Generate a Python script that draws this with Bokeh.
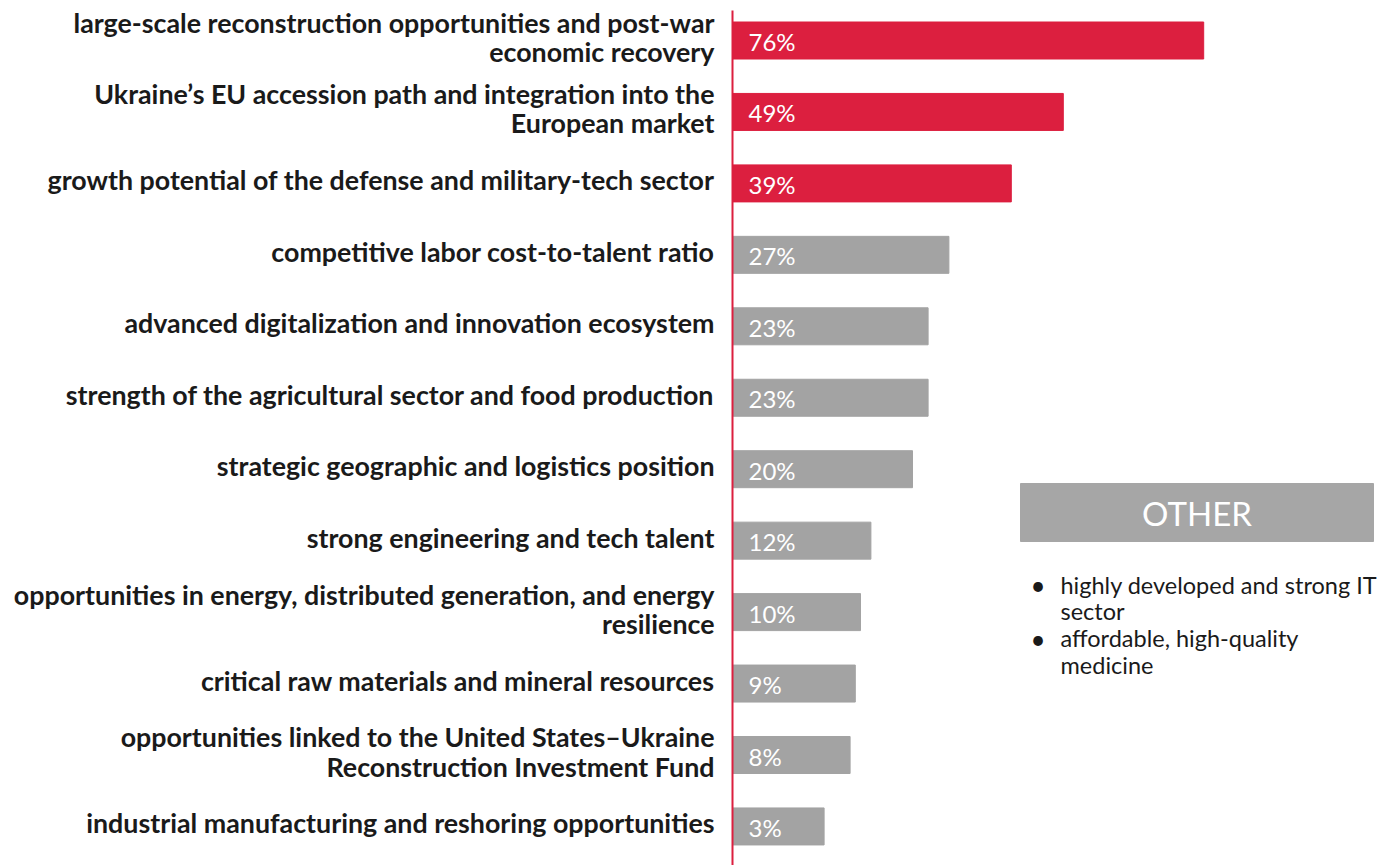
import numpy as np
from bokeh.plotting import figure
from bokeh.models import Range1d, ColumnDataSource
from bokeh.core.properties import value
from bokeh.embed import file_html
from bokeh.resources import INLINE

# ---------------- data ----------------
categories = [
    "large-scale reconstruction opportunities and post-war\neconomic recovery",
    "Ukraine\u2019s EU accession path and integration into the\nEuropean market",
    "growth potential of the defense and military-tech sector",
    "competitive labor cost-to-talent ratio",
    "advanced digitalization and innovation ecosystem",
    "strength of the agricultural sector and food production",
    "strategic geographic and logistics position",
    "strong engineering and tech talent",
    "opportunities in energy, distributed generation, and energy\nresilience",
    "critical raw materials and mineral resources",
    "opportunities linked to the United States\u2013Ukraine\nReconstruction Investment Fund",
    "industrial manufacturing and reshoring opportunities",
]
values = [76, 49, 39, 27, 23, 23, 20, 12, 10, 9, 8, 3]
highlight = [True, True, True, False, False, False, False, False, False, False, False, False]
other_title = "OTHER"
other_items = ["highly developed and strong IT\nsector", "affordable, high-quality\nmedicine"]

RED = "#DC1F3F"
GRAY = "#A3A3A3"

# ---------------- layout ----------------
W, H = 1386, 865
PX = 5.2            # pixels per percentage point
ZERO = 808          # canvas x of value 0
STUB = 76 / PX      # label stub in front of each bar (in % units)
ROW = 71.45         # pixels per row
TOP = 40            # canvas y of first row centre

n = len(values)
idx = np.arange(n)

def dx(px):
    return (px - ZERO) / PX

def dy(py):
    return (py - TOP) / ROW

p = figure(width=W, height=H, output_backend="svg", toolbar_location=None,
           x_range=Range1d(dx(0), dx(W)), y_range=Range1d(dy(H), dy(0)),
           min_border=0)
p.axis.visible = False
p.grid.visible = False
p.outline_line_color = None
p.background_fill_color = "white"

src = ColumnDataSource(dict(
    y=idx,
    left=[-STUB] * n,
    right=values,
    color=[RED if h else GRAY for h in highlight],
    cat=categories,
    pct=[f"{v}%" for v in values],
    lx=[-STUB - 18 / PX] * n,
    px=[-STUB + 16 / PX] * n,
))

p.hbar(y="y", left="left", right="right", height=37 / ROW, color="color", source=src)

p.segment(x0=[-STUB], x1=[-STUB], y0=[dy(10)], y1=[dy(H)], line_color=RED, line_width=2)

p.text(x="lx", y="y", text="cat", source=src, text_align="right", text_baseline="middle",
       text_font=value("Lato"), text_font_style="bold", text_font_size="26.8px",
       text_color="#1a1a1a", text_line_height=0.91, y_offset=-3)

p.text(x="px", y="y", text="pct", source=src, text_align="left", text_baseline="middle",
       text_font=value("Lato"), text_font_size="24px", text_color="white", y_offset=1)

# OTHER box
p.quad(left=[dx(1020)], right=[dx(1373)], top=[dy(483)], bottom=[dy(541)], color="#A6A6A6")
p.text(x=[dx(1196.5)], y=[dy(512)], text=[other_title], text_align="center", text_baseline="middle",
       text_font=value("Lato"), text_font_size="33px", text_color="white")

p.text(x=[dx(1030)] * 2, y=[dy(584), dy(638)], text=["\u2022"] * 2, text_align="left",
       text_baseline="middle", text_font=value("Lato"), text_font_size="26px", text_color="#1a1a1a")
p.text(x=[dx(1060)] * 2, y=[dy(597.5), dy(651)], text=other_items, text_align="left",
       text_baseline="middle", text_font=value("Lato"), text_font_size="23.5px",
       text_color="#1a1a1a", text_line_height=0.96)

open("out.html", "w").write(file_html(p, INLINE))
